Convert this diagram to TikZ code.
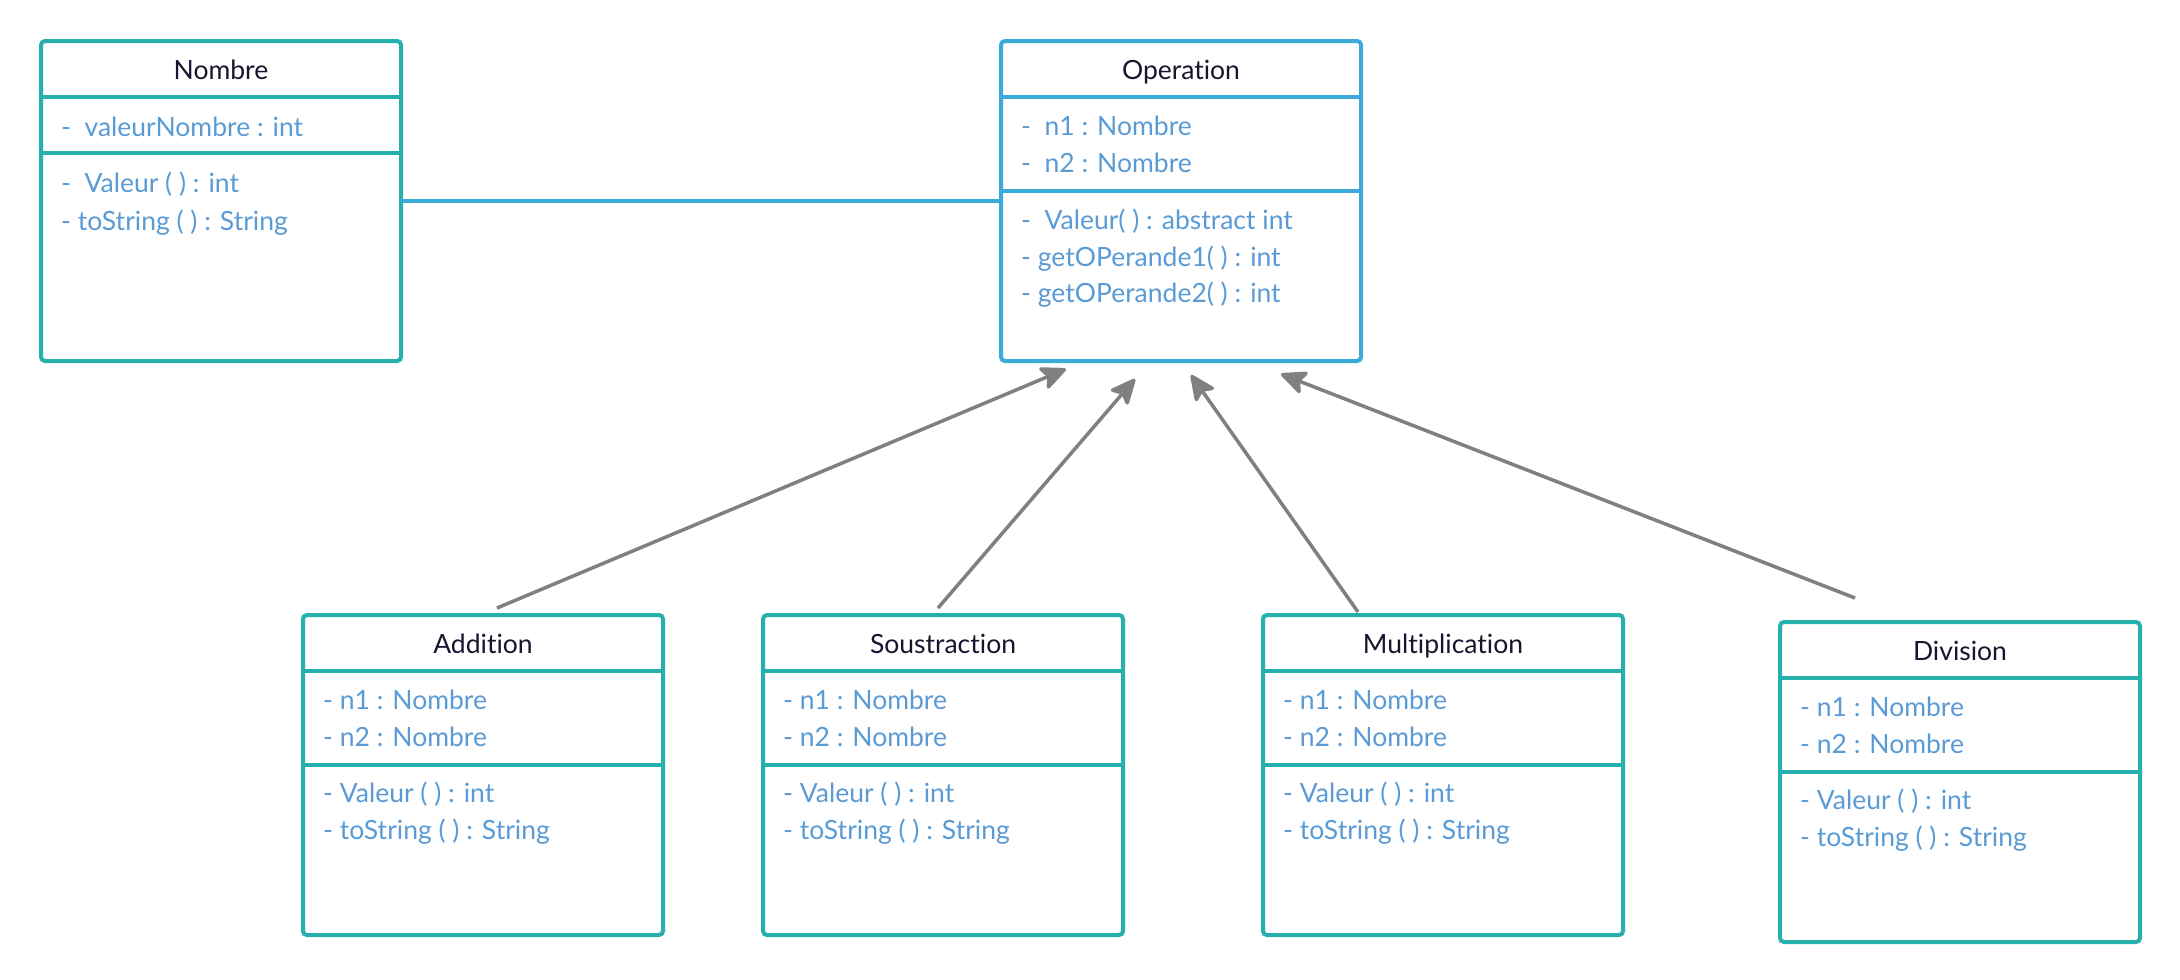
\documentclass[tikz,border=0pt]{standalone}
\usepackage{fontspec}
\setmainfont{Lato}[Ligatures={NoCommon}]
\usetikzlibrary{arrows.meta,calc}
\definecolor{tealc}{HTML}{26B0AD}
\definecolor{opblue}{HTML}{3AABD8}
\definecolor{attrcol}{HTML}{5A9BD5}
\definecolor{titlecol}{HTML}{16162E}
\definecolor{arrowgray}{HTML}{808080}
\tikzset{
  umlbox/.style={rectangle, rounded corners=4pt, line width=4pt, minimum width=360pt,
    minimum height=320pt, inner sep=0pt, outer sep=0pt, anchor=north west, fill=white},
  titletext/.style={font=\fontsize{26.5}{30}\selectfont, text=titlecol, inner sep=0pt,
    text height=19pt, text depth=0pt, anchor=center},
  attr/.style={font=\fontsize{26.5}{30}\selectfont, text=attrcol, inner sep=0pt,
    text height=19pt, text depth=0pt, anchor=west},
  divline/.style={line width=3.5pt},
  inh/.style={draw=arrowgray, line width=3.5pt,
    -{Stealth[length=29pt,width=26pt,inset=6pt,round]}},
  assoc/.style={draw=opblue, line width=4pt}
}
\newcommand\umlcls[5]{%
  \node[umlbox, draw=#4] (#1) at (#2+2,#3+2) {};
  \node[titletext] (#1-title) at ($(#1.north)+(0,29)$) {#5};
  \draw[divline, draw=#4] ($(#1.north west)+(0,56)$) -- ($(#1.north east)+(0,56)$);
}
\newcommand\umldiv[3]{\draw[divline, draw=#2] ($(#1.north west)+(0,#3)$) -- ($(#1.north east)+(0,#3)$);}
\newcommand\umltxt[4]{\node[attr] (#1-#2) at ($(#1.north west)+(20,#3)$) {#4};}
\begin{document}
\begin{tikzpicture}[x=1pt,y=-1pt]
\useasboundingbox (0,0) rectangle (2180,980);
% Nombre
\umlcls{nombre}{39}{39}{tealc}{Nombre}
\umldiv{nombre}{tealc}{112}
\umltxt{nombre}{a1}{86}{-\ \ valeurNombre : int}
\umltxt{nombre}{m1}{142}{-\ \ Valeur ( ) : int}
\umltxt{nombre}{m2}{180}{- toString ( ) : String}
% Operation
\umlcls{op}{999}{39}{opblue}{Operation}
\umldiv{op}{opblue}{150}
\umltxt{op}{a1}{85}{-\ \ n1 : Nombre}
\umltxt{op}{a2}{122}{-\ \ n2 : Nombre}
\umltxt{op}{m1}{179}{-\ \ Valeur( ) : abstract int}
\umltxt{op}{m2}{216}{- getOPerande1( ) : int}
\umltxt{op}{m3}{252}{- getOPerande2( ) : int}
% Subclasses
\umlcls{add}{301}{613}{tealc}{Addition}
\umldiv{add}{tealc}{150}
\umltxt{add}{a1}{85}{- n1 : Nombre}
\umltxt{add}{a2}{122}{- n2 : Nombre}
\umltxt{add}{m1}{178}{- Valeur ( ) : int}
\umltxt{add}{m2}{215}{- toString ( ) : String}
\umlcls{sous}{761}{613}{tealc}{Soustraction}
\umldiv{sous}{tealc}{150}
\umltxt{sous}{a1}{85}{- n1 : Nombre}
\umltxt{sous}{a2}{122}{- n2 : Nombre}
\umltxt{sous}{m1}{178}{- Valeur ( ) : int}
\umltxt{sous}{m2}{215}{- toString ( ) : String}
\umlcls{mult}{1261}{613}{tealc}{Multiplication}
\umldiv{mult}{tealc}{150}
\umltxt{mult}{a1}{85}{- n1 : Nombre}
\umltxt{mult}{a2}{122}{- n2 : Nombre}
\umltxt{mult}{m1}{178}{- Valeur ( ) : int}
\umltxt{mult}{m2}{215}{- toString ( ) : String}
\umlcls{div}{1778}{620}{tealc}{Division}
\umldiv{div}{tealc}{150}
\umltxt{div}{a1}{85}{- n1 : Nombre}
\umltxt{div}{a2}{122}{- n2 : Nombre}
\umltxt{div}{m1}{178}{- Valeur ( ) : int}
\umltxt{div}{m2}{215}{- toString ( ) : String}
% connectors
\draw[assoc] (nombre.east) -- (op.west);
\draw[inh] ($(add.north)+(14,-7)$) -- ($(op.south west)+(65,8)$);
\draw[inh] ($(sous.north)+(-5,-7)$) -- ($(op.south west)+(134,18)$);
\draw[inh] ($(mult.north)+(-85,-3)$) -- ($(op.south west)+(190,14)$);
\draw[inh] ($(div.north)+(-105,-24)$) -- ($(op.south west)+(280,13)$);
\end{tikzpicture}
\end{document}
